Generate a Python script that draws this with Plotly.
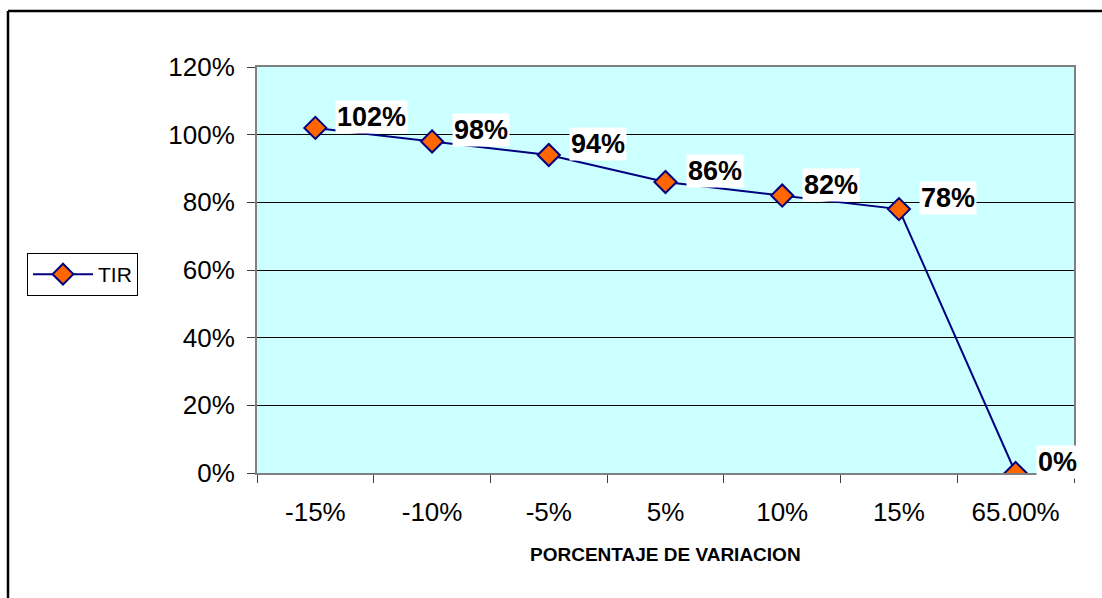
import plotly.graph_objects as go

# Variación porcentual y TIR resultante
categorias = ["-15%", "-10%", "-5%", "5%", "10%", "15%", "65.00%"]
tir = [1.02, 0.98, 0.94, 0.86, 0.82, 0.78, 0.0]
etiquetas = ["102%", "98%", "94%", "86%", "82%", "78%", "0%"]
ticks_y = [0, 0.2, 0.4, 0.6, 0.8, 1.0, 1.2]
ticks_y_texto = ["0%", "20%", "40%", "60%", "80%", "100%", "120%"]

FONT = "Liberation Sans, Arial, sans-serif"
W, H = 1102, 598
ML, MR, MT, MB = 257, 28, 67, 125
PW, PH = W - ML - MR, H - MT - MB

def px_x(px):
    return (px - ML) / PW

def px_y(py):
    return (H - MB - py) / PH

fig = go.Figure()
fig.add_trace(go.Scatter(
    x=categorias, y=tir, name="TIR", mode="lines+markers",
    line=dict(color="#000080", width=2),
    marker=dict(symbol="diamond", size=17, color="#FF6600",
                line=dict(color="#000080", width=2)),
))

# Etiquetas de datos en negrita con fondo blanco
for c, v, t in zip(categorias, tir, etiquetas):
    fig.add_annotation(
        x=c, y=v, text=f"<b>{t}</b>", showarrow=False,
        xanchor="left", yanchor="middle", xshift=20, yshift=11,
        font=dict(family=FONT, size=27, color="black"),
        bgcolor="white", borderpad=1,
    )

# Título del eje X
fig.add_annotation(
    x=0.5, y=px_y(554), xref="paper", yref="paper",
    text="<b>PORCENTAJE DE VARIACION</b>", showarrow=False,
    xanchor="center", yanchor="middle",
    font=dict(family=FONT, size=19, color="black"),
)

# Borde exterior del gráfico: solo los lados superior e izquierdo quedan a la vista
borde = dict(color="black", width=2.5)
fig.add_shape(type="line", xref="paper", yref="paper",
              x0=px_x(8), y0=px_y(11), x1=px_x(1110), y1=px_y(11),
              line=borde, layer="below")
fig.add_shape(type="line", xref="paper", yref="paper",
              x0=px_x(8), y0=px_y(11), x1=px_x(8), y1=px_y(610),
              line=borde, layer="below")

fig.update_layout(
    width=W, height=H,
    margin=dict(l=ML, r=MR, t=MT, b=MB),
    paper_bgcolor="white",
    plot_bgcolor="#CCFFFF",
    font=dict(family=FONT, size=26, color="black"),
    showlegend=True,
    legend=dict(
        x=px_x(27), y=px_y(253), xanchor="left", yanchor="top",
        bgcolor="white", bordercolor="black", borderwidth=1,
        font=dict(family=FONT, size=21, color="black"),
        itemwidth=60, tracegroupgap=0,
    ),
    xaxis=dict(
        type="category", range=[-0.5, 6.5],
        showgrid=False, zeroline=False,
        showline=True, linecolor="#808080", linewidth=2, mirror=True,
        ticks="outside", tickson="boundaries", ticklen=8,
        tickcolor="#404040", tickwidth=1,
        ticklabelstandoff=15,
        tickfont=dict(family=FONT, size=26, color="black"),
    ),
    yaxis=dict(
        range=[0, 1.2], tickvals=ticks_y, ticktext=ticks_y_texto,
        showgrid=True, gridcolor="black", gridwidth=1,
        zeroline=False,
        showline=True, linecolor="#808080", linewidth=2, mirror=True,
        ticks="outside", ticklen=8, tickcolor="#404040", tickwidth=1,
        ticklabelstandoff=7,
        tickfont=dict(family=FONT, size=26, color="black"),
    ),
)

fig.write_html("out.html")
